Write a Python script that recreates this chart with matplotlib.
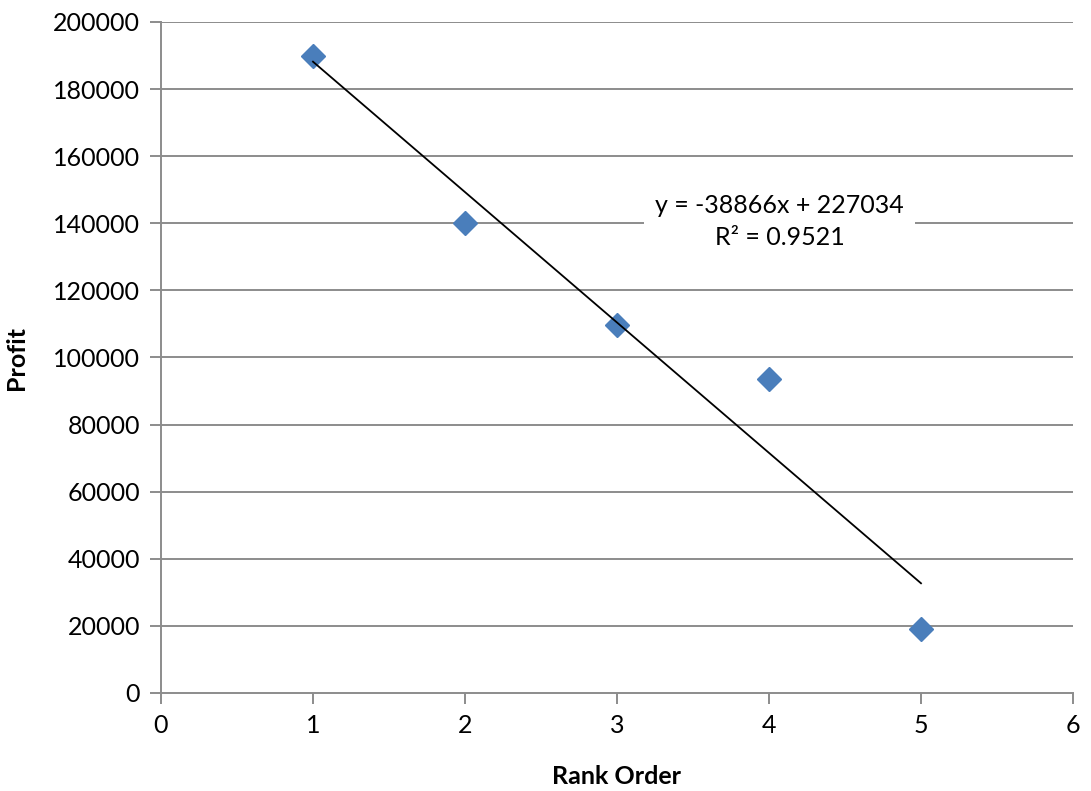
import numpy as np
import matplotlib
matplotlib.use("Agg")
import matplotlib.pyplot as plt

plt.rcParams['font.family'] = ['Lato', 'DejaVu Sans']

# rank vs profit
rank = np.array([1, 2, 3, 4, 5])
profit = np.array([190000, 140000, 109770, 93480, 18930])

slope, intercept = np.polyfit(rank, profit, 1)
fitted = slope * rank + intercept
r2 = 1 - np.sum((profit - fitted) ** 2) / np.sum((profit - profit.mean()) ** 2)

fig = plt.figure(figsize=(10.91, 7.91), dpi=100)
ax = fig.add_axes([161 / 1091, 1 - 693 / 791, (1073 - 161) / 1091, (693 - 22) / 791])

grid_c = '#8c8c8c'
for yv in range(20000, 200001, 20000):
    ax.axhline(yv, color=grid_c, lw=1.4, zorder=1)

# trendline
xs = np.array([rank.min(), rank.max()])
ax.plot(xs, slope * xs + intercept, color='black', lw=1.3, zorder=3)

ax.plot(rank, profit, linestyle='none', marker='D', markersize=12,
        color='#4a7ebb', zorder=2)

eq = 'y = {:.0f}x + {:.0f}\nR² = {:.4f}'.format(slope, intercept, r2)
ax.text(4.07, 140500, eq, ha='center', va='center', fontsize=18,
        linespacing=1.45, zorder=4,
        bbox=dict(boxstyle='square,pad=0.45', facecolor='white', edgecolor='none'))

ax.set_xlim(0, 6)
ax.set_ylim(0, 200000)
ax.set_xticks(range(0, 7))
ax.set_yticks(range(0, 200001, 20000))
ax.tick_params(axis='both', labelsize=18, color=grid_c, width=1.4, length=8,
               direction='out', pad=7)

for side in ['top', 'right']:
    ax.spines[side].set_visible(False)
for side in ['left', 'bottom']:
    ax.spines[side].set_color(grid_c)
    ax.spines[side].set_linewidth(1.4)

ax.set_xlabel('Rank Order', fontsize=18, fontweight='bold', labelpad=20)
ax.set_ylabel('Profit', fontsize=18, fontweight='bold', labelpad=18)

fig.savefig('out.png', dpi=100)
